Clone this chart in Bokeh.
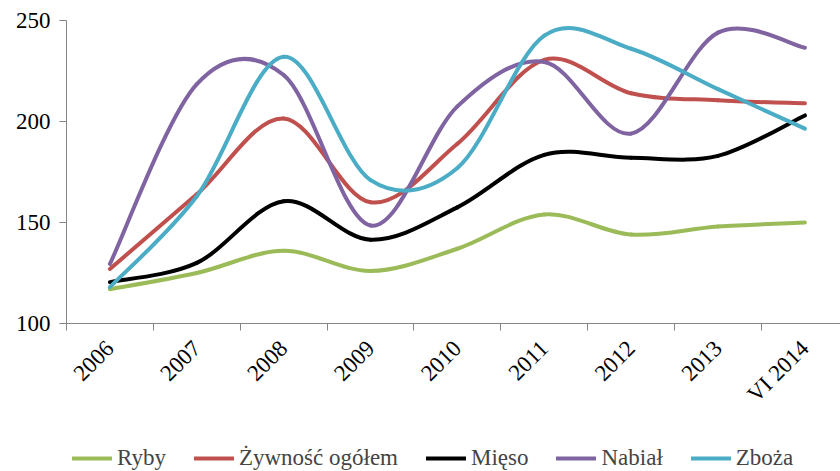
import numpy as np
from bokeh.plotting import figure
from bokeh.layouts import column
from bokeh.models import Range1d, FixedTicker, Legend, LegendItem
from bokeh.embed import file_html
from bokeh.resources import INLINE
from math import pi

years = ["2006", "2007", "2008", "2009", "2010", "2011", "2012", "2013", "VI 2014"]
ryby = [117, 125, 136, 126, 137, 154, 144, 148, 150]
zywnosc = [127, 164, 201.5, 160, 189, 230.5, 214, 210.5, 209]
mieso = [120.5, 130, 160.5, 141.5, 157.5, 183.5, 182, 183, 203]
nabial = [129.5, 218.5, 223, 148.5, 207.5, 229.5, 194, 244, 236.5]
zboza = [118, 163, 232, 171, 177, 242.5, 236, 216, 196.5]

names = ["Ryby", "Żywność ogółem", "Mięso", "Nabiał", "Zboża"]
series = [ryby, zywnosc, mieso, nabial, zboza]
colors = ["#9BBB59", "#C0504D", "#000000", "#8064A2", "#4BACC6"]

FONT = "Times New Roman"
FONT_SIZE = "23px"
AXIS_COLOR = "#868686"

p = figure(width=840, height=423, output_backend="svg", toolbar_location=None,
           x_range=Range1d(-0.5, 8.41), y_range=Range1d(100, 250),
           min_border_left=66, min_border_right=0, min_border_top=20,
           min_border_bottom=100)
p.outline_line_color = None
p.xgrid.visible = False
p.ygrid.visible = False


def smooth_segments(ys):
    """Cubic Bezier segments (Excel-style smoothing) through the points."""
    n = len(ys)
    xs = list(range(n))
    seg = dict(x0=[], y0=[], x1=[], y1=[], cx0=[], cy0=[], cx1=[], cy1=[])
    for i in range(n - 1):
        xm, ym = (xs[i - 1], ys[i - 1]) if i > 0 else (xs[i], ys[i])
        xp, yp = (xs[i + 2], ys[i + 2]) if i + 2 < n else (xs[i + 1], ys[i + 1])
        seg["x0"].append(xs[i]); seg["y0"].append(ys[i])
        seg["x1"].append(xs[i + 1]); seg["y1"].append(ys[i + 1])
        seg["cx0"].append(xs[i] + (xs[i + 1] - xm) / 6.0)
        seg["cy0"].append(ys[i] + (ys[i + 1] - ym) / 6.0)
        seg["cx1"].append(xs[i + 1] - (xp - xs[i]) / 6.0)
        seg["cy1"].append(ys[i + 1] - (yp - ys[i]) / 6.0)
    return seg


for name, ys, c in zip(names, series, colors):
    s = smooth_segments(ys)
    p.bezier(x0=s["x0"], y0=s["y0"], x1=s["x1"], y1=s["y1"],
             cx0=s["cx0"], cy0=s["cy0"], cx1=s["cx1"], cy1=s["cy1"],
             line_color=c, line_width=4, line_cap="round")

# y axis
p.yaxis.ticker = FixedTicker(ticks=[100, 150, 200, 250])
p.yaxis.axis_line_color = AXIS_COLOR
p.yaxis.major_tick_line_color = AXIS_COLOR
p.yaxis.major_tick_out = 7
p.yaxis.major_tick_in = 0
p.yaxis.minor_tick_line_color = None
p.yaxis.major_label_text_font = FONT
p.yaxis.major_label_text_font_size = FONT_SIZE
p.yaxis.major_label_text_color = "black"
p.yaxis.major_label_standoff = 9

# x axis
p.xaxis.ticker = FixedTicker(ticks=list(range(len(years))),
                             minor_ticks=[i - 0.5 for i in range(len(years))])
p.xaxis.major_label_overrides = {i: y for i, y in enumerate(years)}
p.xaxis.axis_line_color = AXIS_COLOR
p.xaxis.major_tick_line_color = None
p.xaxis.major_tick_out = 0
p.xaxis.major_tick_in = 0
p.xaxis.minor_tick_line_color = AXIS_COLOR
p.xaxis.minor_tick_out = 7
p.xaxis.minor_tick_in = 0
p.xaxis.major_label_orientation = pi / 4
p.xaxis.major_label_text_font = FONT
p.xaxis.major_label_text_font_size = FONT_SIZE
p.xaxis.major_label_text_color = "black"
p.xaxis.major_label_standoff = 14

# legend strip below the chart (its frame is aligned with the chart's frame)
lg = figure(width=840, height=48, output_backend="svg", toolbar_location=None,
            x_range=Range1d(0, 1), y_range=Range1d(0, 1),
            x_axis_type=None, y_axis_type=None,
            min_border_left=0, min_border_right=0, min_border_top=0,
            min_border_bottom=0)
lg.outline_line_color = None
lg.xgrid.visible = False
lg.ygrid.visible = False
items = []
for name, c in zip(names, colors):
    # swatch renderers only: their point lies outside the strip's range
    r = lg.line(x=[-5, -4], y=[-5, -4], line_color=c, line_width=4, line_cap="round")
    items.append(LegendItem(label=name, renderers=[r]))

legend = Legend(items=items, orientation="horizontal", location=(6, 0),
                label_text_font=FONT, label_text_font_size=FONT_SIZE,
                glyph_width=40, glyph_height=20, label_standoff=5, spacing=28,
                border_line_color=None, background_fill_alpha=0,
                padding=0, margin=0)
lg.add_layout(legend, "center")

layout = column(p, lg, spacing=0)
open("out.html", "w").write(file_html(layout, INLINE))
